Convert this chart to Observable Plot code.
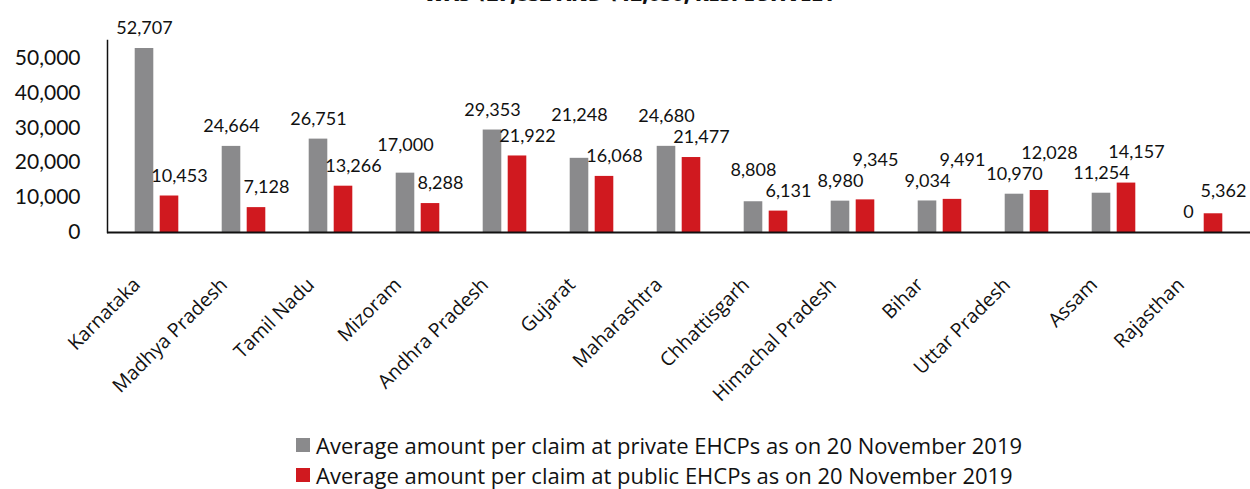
<!DOCTYPE html>
<html>
<head>
<meta charset="utf-8">
<script src="https://cdn.jsdelivr.net/npm/d3@7"></script>
<script src="https://cdn.jsdelivr.net/npm/@observablehq/plot@0.6"></script>
<style>
  html, body { margin: 0; padding: 0; background: #fff; }
  #wrap { position: relative; width: 1250px; height: 489px; overflow: hidden; }
  #title { position: absolute; left: 0; top: 0; width: 1250px; height: 6px; overflow: hidden; }
  #title span { position: absolute; left: 0; width: 1260px; top: -16px; text-align: center;
    font-family: "Open Sans", sans-serif; font-weight: 800; font-size: 20px; line-height: 20px; color: #111; }
  #legend { position: absolute; left: 296px; top: 434px; font-family: "Open Sans", sans-serif;
    font-size: 22px; line-height: 22px; color: #111; }
  .li { display: flex; align-items: center; height: 22px; margin-bottom: 8px; white-space: nowrap; }
  .sw { width: 14px; height: 14px; margin-right: 6px; }
</style>
</head>
<body>
<div id="wrap">
  <div id="chart"></div>
  <div id="title"><span>WAS ₹27,832 AND ₹12,030, RESPECTIVELY</span></div>
  <div id="legend"></div>
</div>
<script>
const states = ["Karnataka","Madhya Pradesh","Tamil Nadu","Mizoram","Andhra Pradesh","Gujarat","Maharashtra","Chhattisgarh","Himachal Pradesh","Bihar","Uttar Pradesh","Assam","Rajasthan"];
const privateAmt = [52707,24664,26751,17000,29353,21248,24680,8808,8980,9034,10970,11254,0];
const publicAmt = [10453,7128,13266,8288,21922,16068,21477,6131,9345,9491,12028,14157,5362];
const seriesNames = ["Average amount per claim at private EHCPs as on 20 November 2019","Average amount per claim at public EHCPs as on 20 November 2019"];
const seriesColors = ["#8a8a8c","#d0191f"];
const yTicks = [0,10000,20000,30000,40000,50000];

const W = 1250, H = 425, MT = 40, MB = 193, ML = 107, MR = 0;
const yDomain = [0, 55000];
const fmt = d3.format(",");
const inset = 34.2;
const off = 12.5;
const pubShift = 10;

// label layout: labels sit above bars; colliding labels are lifted
const ys = Plot.scale({y: {domain: yDomain, range: [H - MB, MT]}});
const xs = Plot.scale({x: {type: "band", domain: states, range: [ML, W - MR], padding: 0}});
const bw = xs.bandwidth;
const textW = t => t.replace(/,/g, "").length * 10.2 + (t.match(/,/g) || []).length * 4.5 + 2;
const gapAbove = 20, lineGap = 21, crossGap = 18;
const privLab = [], pubLab = [];
states.forEach((s, i) => {
  const pt = fmt(privateAmt[i]), qt = fmt(publicAmt[i]);
  let a = ys.apply(privateAmt[i]) - gapAbove;
  let b = ys.apply(publicAmt[i]) - gapAbove;
  if (i > 0) {
    const prev = pubLab[i - 1];
    const dist = bw - off - (off + pubShift);
    if (dist < (prev.w + textW(pt)) / 2 && Math.abs(prev.py - a) < crossGap) a = prev.py - lineGap;
  }
  if (Math.abs(a - b) < lineGap) {
    if (privateAmt[i] >= publicAmt[i]) a = b - lineGap; else b = a - lineGap;
  }
  privLab.push({state: s, y: ys.invert(a), text: pt, py: a, w: textW(pt)});
  pubLab.push({state: s, y: ys.invert(b), text: qt, py: b, w: textW(qt)});
});

const priv = states.map((s,i)=>({state:s, value:privateAmt[i]}));
const pub = states.map((s,i)=>({state:s, value:publicAmt[i]}));

const chart = Plot.plot({
  width: W,
  height: H,
  marginTop: MT,
  marginBottom: MB,
  marginLeft: ML,
  marginRight: MR,
  style: {background: "#fff", overflow: "visible", fontFamily: "Lato, sans-serif", color: "#111"},
  x: {domain: states, padding: 0, label: null},
  y: {domain: yDomain, label: null},
  marks: [
    Plot.barY(priv, {x: "state", y: "value", fill: seriesColors[0], insetLeft: inset, insetRight: inset, dx: -off}),
    Plot.barY(pub, {x: "state", y: "value", fill: seriesColors[1], insetLeft: inset, insetRight: inset, dx: off}),
    Plot.text(privLab, {x: "state", y: "y", text: "text", dx: -off, lineAnchor: "middle", fontSize: 18, fill: "#111", fontFamily: "Lato, sans-serif"}),
    Plot.text(pubLab, {x: "state", y: "y", text: "text", dx: off + pubShift, lineAnchor: "middle", fontSize: 18, fill: "#111", fontFamily: "Lato, sans-serif"}),
    Plot.axisY({ticks: yTicks, tickFormat: d3.format(","), tickSize: 0, tickPadding: 27, fontSize: 21, fontFamily: "Lato, sans-serif", label: null}),
    Plot.axisX({tickSize: 0, tickRotate: -45, tickPadding: 38, dx: -20, dy: 11, fontSize: 19.5, fontFamily: "Open Sans, sans-serif", label: null}),
    Plot.frame({anchor: "left", stroke: "#111", strokeWidth: 1.5}),
    Plot.ruleY([0], {stroke: "#111", strokeWidth: 2})
  ]
});
document.getElementById("chart").appendChild(chart);

const lg = document.getElementById("legend");
seriesNames.forEach((n,i)=>{
  const row = document.createElement("div");
  row.className = "li";
  const sw = document.createElement("div");
  sw.className = "sw";
  sw.style.background = seriesColors[i];
  const t = document.createElement("span");
  t.textContent = n;
  row.appendChild(sw); row.appendChild(t);
  lg.appendChild(row);
});
</script>
</body>
</html>
